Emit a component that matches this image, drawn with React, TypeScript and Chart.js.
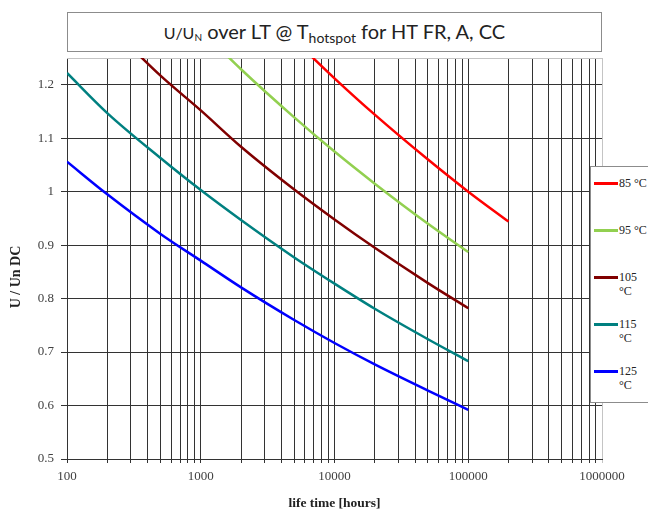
import React, { useEffect, useRef } from 'react';
import { Chart, registerables } from 'chart.js';

Chart.register(...registerables);

// ---- data ----
const lifeHours = [100, 200, 500, 1000, 2000, 5000, 10000, 20000, 50000, 100000, 200000];
const u85 = [null, null, null, null, null, 1.284, 1.212, 1.144, 1.06, 1.0, 0.944];
const u95 = [null, null, null, 1.303, 1.229, 1.139, 1.075, 1.015, 0.94, 0.887, null];
const u105 = [null, 1.314, 1.217, 1.152, 1.084, 1.004, 0.948, 0.895, 0.829, 0.782, null];
const u115 = [1.222, 1.147, 1.063, 1.003, 0.947, 0.877, 0.828, 0.781, 0.724, 0.683, null];
const u125 = [1.056, 0.995, 0.921, 0.871, 0.821, 0.76, 0.717, 0.677, 0.628, 0.592, null];

const seriesLabels = ['85 °C', '95 °C', '105 °C', '115 °C', '125 °C'];
const seriesColors = ['#ff0000', '#92d050', '#800000', '#008080', '#0000ff'];
const seriesValues = [u85, u95, u105, u115, u125];

const xDecades = [100, 1000, 10000, 100000, 1000000];
const xTickLabels = ['100', '1000', '10000', '100000', '1000000'];
const xMinorSteps = [1, 2, 3, 4, 5, 6, 7, 8, 9];
const yTicks = [0.5, 0.6, 0.7, 0.8, 0.9, 1.0, 1.1, 1.2];

const X_TITLE = 'life time [hours]';
const Y_TITLE = 'U / Un DC';

const SERIF = '"Liberation Serif", "Times New Roman", serif';

export default function App() {
  const ref = useRef<HTMLCanvasElement>(null);

  useEffect(() => {
    if (!ref.current) return;

    const xGrid: number[] = [];
    xDecades.forEach((d, i) => {
      if (i === xDecades.length - 1) {
        xGrid.push(d);
      } else {
        xMinorSteps.forEach((m) => xGrid.push(m * d));
      }
    });

    const framePlugin = {
      id: 'frame',
      beforeDatasetsDraw(chart: any) {
        const { ctx, chartArea: a } = chart;
        ctx.save();
        ctx.strokeStyle = '#c4c4c4';
        ctx.lineWidth = 1;
        ctx.beginPath();
        ctx.moveTo(a.left, a.top + 0.5);
        ctx.lineTo(a.right + 0.5, a.top + 0.5);
        ctx.lineTo(a.right + 0.5, a.bottom);
        ctx.stroke();
        ctx.restore();
      },
    };

    const yTitlePlugin = {
      id: 'ytitle',
      afterDraw(chart: any) {
        const { ctx } = chart;
        ctx.save();
        ctx.translate(16, 277);
        ctx.rotate(-Math.PI / 2);
        ctx.font = 'bold 14px ' + SERIF;
        ctx.fillStyle = '#222';
        ctx.textAlign = 'center';
        ctx.textBaseline = 'middle';
        ctx.fillText(Y_TITLE, 0, 0);
        ctx.restore();
      },
    };

    const datasets = seriesValues.map((vals, i) => ({
      label: seriesLabels[i],
      data: lifeHours
        .map((x, j) => ({ x, y: vals[j] }))
        .filter((p) => p.y !== null),
      borderColor: seriesColors[i],
      backgroundColor: seriesColors[i],
      borderWidth: 2.5,
      pointRadius: 0,
      fill: false,
      cubicInterpolationMode: 'monotone' as const,
    }));

    const chart = new Chart(ref.current, {
      type: 'line',
      data: { datasets: datasets as any },
      plugins: [framePlugin, yTitlePlugin],
      options: {
        responsive: false,
        animation: false,
        devicePixelRatio: 1,
        layout: { padding: { left: 0, right: 46, top: 58, bottom: 0 } },
        plugins: {
          legend: { display: false },
          title: { display: false },
          tooltip: { enabled: false },
        },
        scales: {
          x: {
            type: 'logarithmic',
            min: 100,
            max: 1000000,
            afterBuildTicks: (s: any) => {
              s.ticks = xGrid.map((v) => ({ value: v }));
            },
            afterFit: (s: any) => {
              s.height = 55;
            },
            ticks: {
              autoSkip: false,
              maxRotation: 0,
              minRotation: 0,
              padding: 6,
              color: '#404040',
              font: { family: SERIF, size: 13 },
              callback: (v: any) => {
                const i = xDecades.indexOf(Number(v));
                return i >= 0 ? xTickLabels[i] : '';
              },
            },
            grid: {
              color: (c: any) => (c.tick && c.tick.value === 1000000 ? '#c4c4c4' : '#333333'),
              lineWidth: 1,
              tickLength: 4,
            },
            border: { display: true, color: '#333333' },
            title: {
              display: true,
              text: X_TITLE,
              color: '#222',
              font: { family: SERIF, size: 13.5, weight: 'bold' },
              padding: { top: 0, bottom: 2 },
            },
          },
          y: {
            type: 'linear',
            min: 0.5,
            max: 1.25,
            afterBuildTicks: (s: any) => {
              s.ticks = yTicks.map((v) => ({ value: v }));
            },
            afterFit: (s: any) => {
              s.width = 67;
            },
            ticks: {
              padding: 7,
              color: '#404040',
              font: { family: SERIF, size: 13 },
              callback: (v: any) => String(Math.round(Number(v) * 10) / 10),
            },
            grid: { color: '#333333', lineWidth: 1, tickLength: 6 },
            border: { display: true, color: '#333333' },
          },
        },
      } as any,
    });

    return () => chart.destroy();
  }, []);

  return (
    <div
      style={{
        position: 'fixed',
        left: 0,
        top: 0,
        width: 648,
        height: 514,
        overflow: 'hidden',
        background: '#fff',
      }}
    >
      <canvas ref={ref} width={648} height={514} style={{ position: 'absolute', left: 0, top: 0 }} />
      <div
        style={{
          position: 'absolute',
          left: 67,
          top: 12,
          width: 535,
          height: 40,
          boxSizing: 'border-box',
          border: '1px solid #8c8c8c',
          background: '#fff',
          display: 'flex',
          alignItems: 'baseline',
          justifyContent: 'center',
          paddingTop: 7,
          fontFamily: 'Lato, "Open Sans", sans-serif',
          fontSize: 20,
          lineHeight: '22px',
          color: '#222',
          whiteSpace: 'nowrap',
        }}
      >
        <span style={{ fontSize: 16 }}>
          U/U<span style={{ fontSize: 10, position: 'relative', top: 2 }}>N</span>
        </span>
        <span>&nbsp;over LT @ T</span>
        <span style={{ fontSize: 14, position: 'relative', top: 4 }}>hotspot</span>
        <span>&nbsp;for HT FR, A, CC</span>
      </div>
      <div
        style={{
          position: 'absolute',
          left: 590,
          top: 166,
          width: 90,
          height: 237,
          boxSizing: 'border-box',
          border: '1px solid #8c8c8c',
          background: '#fff',
        }}
      >
        {seriesLabels.map((lab, i) => (
          <div
            key={lab}
            style={{
              position: 'absolute',
              left: 3,
              top: 9 + i * 47,
              display: 'flex',
              alignItems: 'flex-start',
            }}
          >
            <div style={{ width: 24, height: 3, background: seriesColors[i], marginTop: 6 }} />
            <div
              style={{
                width: 31,
                marginLeft: 1,
                fontFamily: SERIF,
                fontSize: 12,
                lineHeight: '14px',
                color: '#222',
              }}
            >
              {lab}
            </div>
          </div>
        ))}
      </div>
    </div>
  );
}
